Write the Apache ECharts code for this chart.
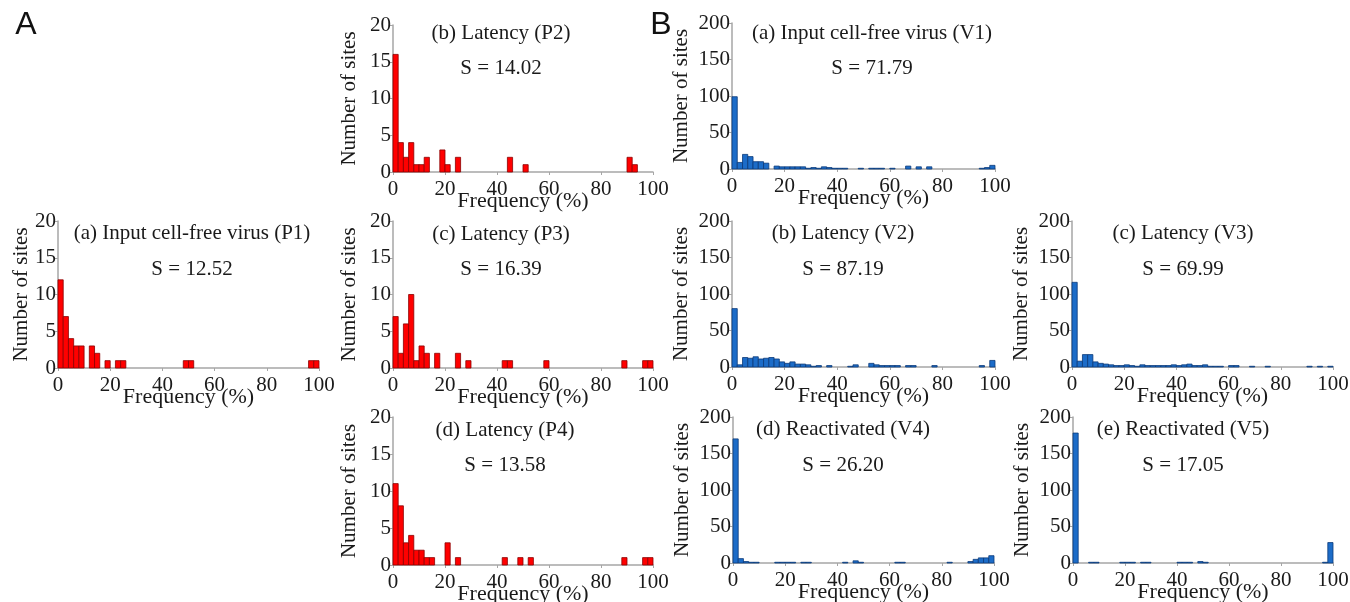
<!DOCTYPE html>
<html>
<head>
<meta charset="utf-8">
<title>Site frequency histograms</title>
<script src="https://cdn.jsdelivr.net/npm/echarts@6/dist/echarts.min.js"></script>
<style>
  html, body { margin: 0; padding: 0; background: #fff; }
  #main { width: 1350px; height: 602px; }
</style>
</head>
<body>
<div id="main"></div>
<script>
// left edge (%) of each 2%-wide frequency bin
const binStarts = [0, 2, 4, 6, 8, 10, 12, 14, 16, 18, 20, 22, 24, 26, 28, 30, 32, 34, 36, 38,
  40, 42, 44, 46, 48, 50, 52, 54, 56, 58, 60, 62, 64, 66, 68, 70, 72, 74, 76, 78,
  80, 82, 84, 86, 88, 90, 92, 94, 96, 98];
const binWidth = 2;

const xTicks = [0, 20, 40, 60, 80, 100];
const pTicks = [0, 5, 10, 15, 20];
const vTicks = [0, 50, 100, 150, 200];

// A: number of sites per bin
const p1 = [12, 7, 4, 3, 3, 0, 3, 2, 0, 1, 0, 1, 1, 0, 0, 0, 0, 0, 0, 0, 0, 0, 0, 0, 1, 1, 0, 0, 0, 0,
  0, 0, 0, 0, 0, 0, 0, 0, 0, 0, 0, 0, 0, 0, 0, 0, 0, 0, 1, 1];
const p2 = [16, 4, 2, 4, 1, 1, 2, 0, 0, 3, 1, 0, 2, 0, 0, 0, 0, 0, 0, 0, 0, 0, 2, 0, 0, 1, 0, 0, 0, 0,
  0, 0, 0, 0, 0, 0, 0, 0, 0, 0, 0, 0, 0, 0, 0, 2, 1, 0, 0, 0];
const p3 = [7, 2, 6, 10, 1, 3, 2, 0, 2, 0, 0, 0, 2, 0, 1, 0, 0, 0, 0, 0, 0, 1, 1, 0, 0, 0, 0, 0, 0, 1,
  0, 0, 0, 0, 0, 0, 0, 0, 0, 0, 0, 0, 0, 0, 1, 0, 0, 0, 1, 1];
const p4 = [11, 8, 3, 4, 2, 2, 1, 1, 0, 0, 3, 0, 1, 0, 0, 0, 0, 0, 0, 0, 0, 1, 0, 0, 1, 0, 1, 0, 0, 0,
  0, 0, 0, 0, 0, 0, 0, 0, 0, 0, 0, 0, 0, 0, 1, 0, 0, 0, 1, 1];

// B: number of sites per bin
const v1 = [99, 9, 20, 17, 10, 10, 8, 0, 4, 3, 3, 3, 3, 3, 1, 2, 1, 3, 2, 1, 1, 1, 0, 0, 1, 0, 1, 1, 1, 0,
  1, 0, 0, 4, 0, 3, 0, 3, 0, 0, 0, 0, 0, 0, 0, 0, 0, 1, 2, 5];
const v2 = [80, 3, 13, 12, 14, 11, 12, 13, 11, 7, 5, 7, 4, 4, 3, 1, 2, 0, 2, 0, 0, 0, 1, 3, 0, 0, 5, 3, 2, 2,
  2, 2, 0, 2, 2, 0, 0, 0, 2, 0, 0, 0, 0, 0, 0, 0, 0, 2, 0, 9];
const v3 = [116, 8, 17, 17, 7, 5, 4, 3, 2, 2, 3, 2, 1, 3, 2, 2, 2, 2, 2, 3, 2, 3, 4, 2, 2, 3, 1, 1, 1, 0,
  2, 2, 0, 0, 1, 0, 0, 1, 0, 0, 0, 0, 0, 0, 0, 1, 0, 1, 0, 1];
const v4 = [170, 6, 2, 1, 1, 0, 0, 0, 1, 1, 1, 1, 0, 1, 1, 0, 0, 0, 0, 0, 0, 1, 0, 3, 1, 0, 0, 0, 0, 0,
  0, 1, 1, 0, 0, 0, 0, 0, 0, 0, 0, 1, 0, 0, 0, 2, 5, 7, 7, 10];
const v5 = [178, 0, 0, 1, 1, 0, 0, 0, 0, 1, 1, 1, 0, 1, 1, 0, 0, 0, 0, 0, 1, 1, 1, 0, 2, 1, 0, 0, 0, 0,
  0, 0, 0, 0, 0, 0, 0, 0, 0, 0, 0, 0, 0, 0, 0, 0, 0, 0, 1, 28];

const panelTitles = ['(a) Input cell-free virus (P1)', '(b) Latency (P2)', '(c) Latency (P3)', '(d) Latency (P4)',
  '(a) Input cell-free virus (V1)', '(b) Latency (V2)', '(c) Latency (V3)', '(d) Reactivated (V4)', '(e) Reactivated (V5)'];
const sValues = ['12.52', '14.02', '16.39', '13.58', '71.79', '87.19', '69.99', '26.20', '17.05'];

const RED = { fill: '#ff0000', stroke: '#8a0000' };
const BLUE = { fill: '#1c6cc8', stroke: '#0b3a78' };
const SERIF = '"Liberation Serif", "DejaVu Serif", serif';
const TEXT = '#1a1a1a';

// grid placement of each panel
const panels = [
  { data: p1, ticks: pTicks, c: RED,  left: 58,   top: 221, w: 261, h: 147, tx: 192, tdy: 12, sdy: 48, ngap: 26 },
  { data: p2, ticks: pTicks, c: RED,  left: 393,  top: 25,  w: 260, h: 147, tx: 501, tdy: 8,  sdy: 43, ngap: 33 },
  { data: p3, ticks: pTicks, c: RED,  left: 393,  top: 221, w: 260, h: 147, tx: 501, tdy: 13, sdy: 48, ngap: 33 },
  { data: p4, ticks: pTicks, c: RED,  left: 393,  top: 417, w: 260, h: 148, tx: 505, tdy: 13, sdy: 48, ngap: 33 },
  { data: v1, ticks: vTicks, c: BLUE, left: 732,  top: 23,  w: 263, h: 146, tx: 872, tdy: 10, sdy: 45, ngap: 40 },
  { data: v2, ticks: vTicks, c: BLUE, left: 732,  top: 221, w: 263, h: 146, tx: 843, tdy: 12, sdy: 48, ngap: 40 },
  { data: v3, ticks: vTicks, c: BLUE, left: 1072, top: 221, w: 261, h: 146, tx: 1183, tdy: 12, sdy: 48, ngap: 40 },
  { data: v4, ticks: vTicks, c: BLUE, left: 733,  top: 417, w: 261, h: 146, tx: 843, tdy: 12, sdy: 48, ngap: 40 },
  { data: v5, ticks: vTicks, c: BLUE, left: 1073, top: 417, w: 260, h: 146, tx: 1183, tdy: 12, sdy: 48, ngap: 40 }
];

function makeRender(colors) {
  return function (params, api) {
    const x0 = api.value(0);
    const n = api.value(1);
    if (!n) return;
    const a = api.coord([x0, n]);
    const b = api.coord([x0 + binWidth, 0]);
    return {
      type: 'rect',
      shape: { x: a[0], y: a[1], width: b[0] - a[0], height: b[1] - a[1] },
      style: { fill: colors.fill, stroke: colors.stroke, lineWidth: 0.8 }
    };
  };
}

const axisLine = { show: true, lineStyle: { color: '#a6a6a6', width: 1.5 } };
const axisTick = { show: true, length: 3, lineStyle: { color: '#a6a6a6', width: 1 } };
const grids = [], xAxes = [], yAxes = [], series = [], texts = [];

panels.forEach(function (p, i) {
  const yMax = p.ticks[p.ticks.length - 1];
  grids.push({ left: p.left, top: p.top, width: p.w, height: p.h, outerBoundsMode: 'none', containLabel: false });
  xAxes.push({
    type: 'value', gridIndex: i, min: xTicks[0], max: xTicks[xTicks.length - 1], interval: xTicks[1] - xTicks[0],
    axisLine: axisLine, axisTick: axisTick, splitLine: { show: false },
    axisLabel: { color: TEXT, fontFamily: SERIF, fontSize: 21, margin: 7 },
    name: 'Frequency (%)', nameLocation: 'middle', nameGap: 18, nameMoveOverlap: false,
    nameTextStyle: { color: TEXT, fontFamily: SERIF, fontSize: 22 }
  });
  yAxes.push({
    type: 'value', gridIndex: i, min: p.ticks[0], max: yMax, interval: p.ticks[1] - p.ticks[0],
    axisLine: axisLine, axisTick: axisTick, splitLine: { show: false },
    axisLabel: { color: TEXT, fontFamily: SERIF, fontSize: 21, margin: 2 },
    name: 'Number of sites', nameLocation: 'middle', nameGap: p.ngap, nameMoveOverlap: false,
    nameTextStyle: { color: TEXT, fontFamily: SERIF, fontSize: 21 }
  });
  series.push({
    type: 'custom', xAxisIndex: i, yAxisIndex: i,
    renderItem: makeRender(p.c),
    data: binStarts.map(function (b, k) { return [b, p.data[k]]; }),
    silent: true
  });
  texts.push({
    type: 'text', x: p.tx, y: p.top + p.tdy,
    style: { text: panelTitles[i], font: '21px ' + SERIF, fill: TEXT,
      align: 'center', verticalAlign: 'middle', textAlign: 'center', textVerticalAlign: 'middle' }
  });
  texts.push({
    type: 'text', x: p.tx, y: p.top + p.sdy,
    style: { text: 'S = ' + sValues[i], font: '21px ' + SERIF, fill: TEXT,
      align: 'center', verticalAlign: 'middle', textAlign: 'center', textVerticalAlign: 'middle' }
  });
});

['A', 'B'].forEach(function (letter, i) {
  texts.push({
    type: 'text', x: [26, 661][i], y: 25,
    style: { text: letter, font: '32px "Liberation Sans", Arial, sans-serif', fill: '#111',
      align: 'center', verticalAlign: 'middle', textAlign: 'center', textVerticalAlign: 'middle' }
  });
});

const chart = echarts.init(document.getElementById('main'));
chart.setOption({
  animation: false,
  backgroundColor: '#fff',
  grid: grids,
  xAxis: xAxes,
  yAxis: yAxes,
  series: series,
  graphic: { elements: texts }
});
</script>
</body>
</html>
